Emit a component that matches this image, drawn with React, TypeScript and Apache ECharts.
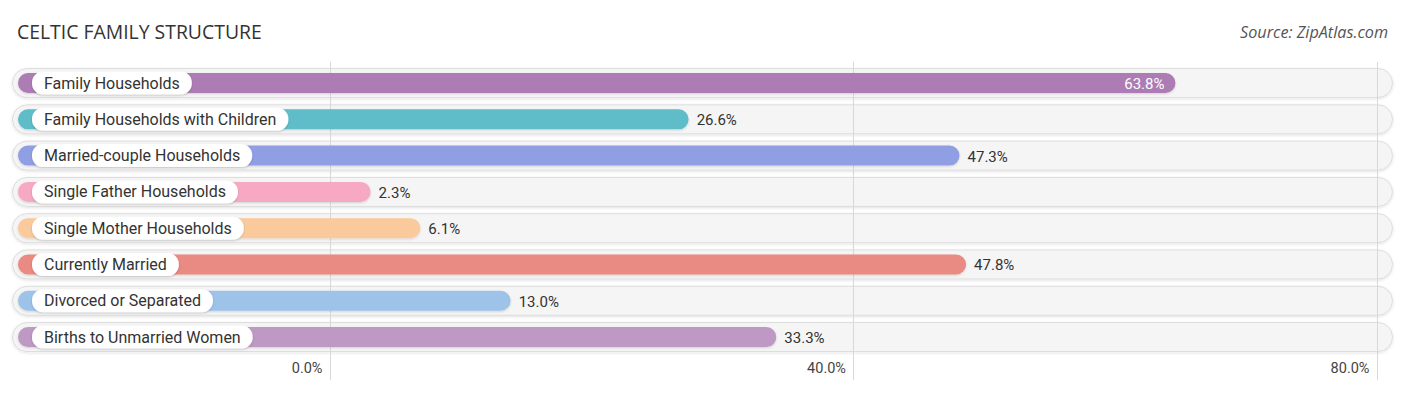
import React, { useEffect, useRef } from "react";
import * as echarts from "echarts";

const categories = [
  "Family Households",
  "Family Households with Children",
  "Married-couple Households",
  "Single Father Households",
  "Single Mother Households",
  "Currently Married",
  "Divorced or Separated",
  "Births to Unmarried Women",
];
const values = [63.8, 26.6, 47.3, 2.3, 6.1, 47.8, 13.0, 33.3];
const colors = [
  "#ad7bb4",
  "#5ebdca",
  "#909fe4",
  "#f7a9c3",
  "#fbca9c",
  "#e98a83",
  "#9ec3e9",
  "#be99c4",
];
const tickValues = [0, 40, 80];
const insideThreshold = 55;

const FONT = "Roboto, 'Noto Sans', sans-serif";
const TITLE_FONT = "'Open Sans', Roboto, sans-serif";

export default function App() {
  const ref = useRef<HTMLDivElement>(null);
  useEffect(() => {
    if (!ref.current) return;
    const chart = echarts.init(ref.current, null, { renderer: "svg" });
    const pxPerUnit = 13.0875;
    const zeroX = 329.5;
    const gridLeft = 12;
    const gridRight = 13;
    const min = -(zeroX - gridLeft) / pxPerUnit;
    const max = (1406 - gridRight - zeroX) / pxPerUnit;

    const barData = values.map((v, i) => [v, i]);

    chart.setOption({
      animation: false,
      title: [
        {
          text: "CELTIC FAMILY STRUCTURE",
          left: 12,
          top: 17,
          textStyle: { fontSize: 19.4, fontWeight: "normal", color: "#333", fontFamily: TITLE_FONT },
        },
        {
          text: "Source: ZipAtlas.com",
          right: 13,
          top: 19,
          textStyle: { fontSize: 16.2, fontWeight: "normal", fontStyle: "italic", color: "#555", fontFamily: TITLE_FONT },
        },
      ],
      grid: { left: gridLeft, right: gridRight, top: 64.9, bottom: 395 - 355.2, containLabel: false },
      xAxis: {
        type: "value",
        min,
        max,
        axisLine: { show: false },
        axisTick: { show: false },
        splitLine: { show: false },
        axisLabel: {
          customValues: tickValues,
          formatter: (v: number) => v.toFixed(1) + "%",
          align: "right",
          padding: [0, 7, 0, 0],
          margin: 6,
          fontSize: 14.5,
          color: "#444",
          fontFamily: FONT,
        },
      },
      yAxis: {
        type: "category",
        data: categories,
        inverse: true,
        show: false,
      },
      series: [
        {
          type: "custom",
          z: 1,
          data: barData,
          encode: { x: 0, y: 1 },
          renderItem: (params: any, api: any) => {
            const cs = params.coordSys;
            const p = api.coord([api.value(0), api.value(1)]);
            const h = 29;
            return {
              type: "rect",
              shape: { x: cs.x + 0.5, y: p[1] - h / 2, width: cs.width - 1, height: h, r: h / 2 },
              style: {
                fill: "#f5f5f5",
                stroke: "#dddddd",
                lineWidth: 1,
                shadowBlur: 3,
                shadowOffsetY: 1,
                shadowColor: "rgba(0,0,0,0.12)",
              },
            };
          },
        },
        {
          type: "custom",
          z: 2,
          data: tickValues.map((t) => [t, 0]),
          encode: { x: 0, y: 1 },
          renderItem: (params: any, api: any) => {
            const cs = params.coordSys;
            const p = api.coord([api.value(0), 0]);
            const x = Math.round(p[0]) + 0.5;
            return {
              type: "line",
              shape: { x1: x, y1: cs.y - 3, x2: x, y2: cs.y + cs.height + 25 },
              style: { stroke: "#d8d8d8", lineWidth: 1 },
            };
          },
        },
        {
          type: "custom",
          z: 3,
          data: barData,
          encode: { x: 0, y: 1 },
          renderItem: (params: any, api: any) => {
            const cs = params.coordSys;
            const v = api.value(0);
            const i = api.value(1);
            const p = api.coord([v, i]);
            const bh = 20;
            const startX = cs.x + 6;
            const endX = p[0] + 11;
            const inside = v > insideThreshold;
            return {
              type: "group",
              children: [
                {
                  type: "rect",
                  shape: { x: startX, y: p[1] - bh / 2, width: endX - startX, height: bh, r: bh / 2 },
                  style: {
                    fill: colors[i],
                    shadowBlur: 2,
                    shadowOffsetY: 1,
                    shadowColor: "rgba(0,0,0,0.15)",
                  },
                },
                {
                  type: "text",
                  x: cs.x + 20,
                  y: p[1],
                  style: {
                    text: categories[i],
                    fontSize: 16,
                    fontFamily: FONT,
                    fill: "#333",
                    align: "left",
                    verticalAlign: "middle",
                    lineHeight: 15,
                    backgroundColor: "#ffffff",
                    padding: [4, 12, 4, 12],
                    borderRadius: 11,
                    shadowBlur: 2,
                    shadowOffsetY: 1,
                    shadowColor: "rgba(0,0,0,0.18)",
                  },
                },
                {
                  type: "text",
                  x: inside ? endX - 11 : endX + 8,
                  y: p[1] + 1,
                  style: {
                    text: v.toFixed(1) + "%",
                    fontSize: 15,
                    fontFamily: FONT,
                    fill: inside ? "#ffffff" : "#333",
                    align: inside ? "right" : "left",
                    verticalAlign: "middle",
                  },
                },
              ],
            };
          },
        },
      ],
    });
    return () => chart.dispose();
  }, []);
  return (
    <div
      ref={ref}
      style={{ position: "fixed", left: 0, top: 0, width: 1406, height: 395, background: "#fff" }}
    />
  );
}
